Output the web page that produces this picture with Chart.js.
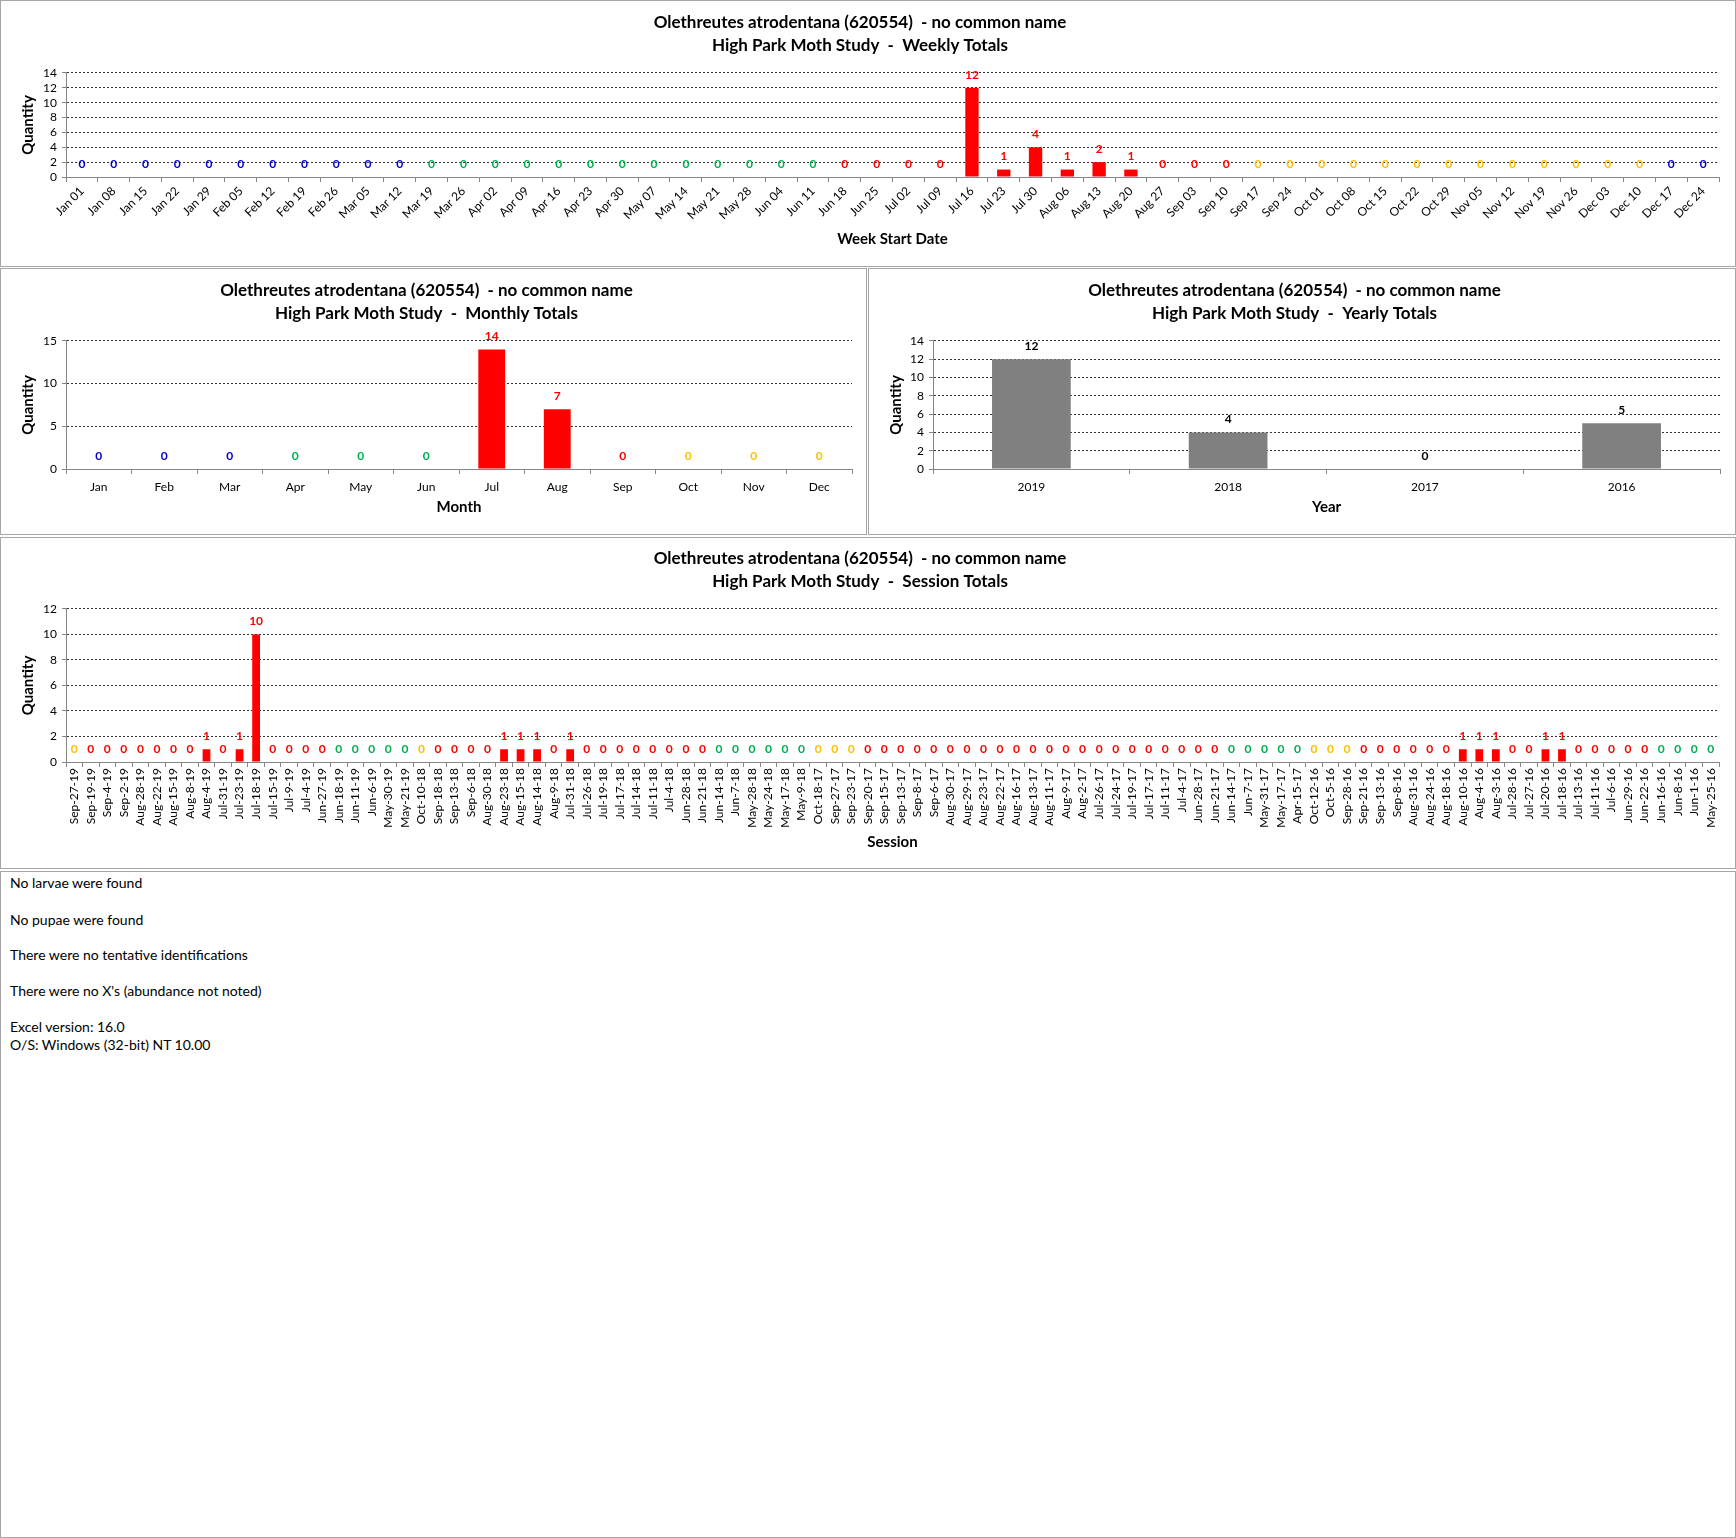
<!DOCTYPE html>
<html>
<head>
<meta charset="utf-8">
<title>Olethreutes atrodentana (620554)</title>
<script src="https://cdn.jsdelivr.net/npm/chart.js@4.4.0/dist/chart.umd.min.js"></script>
<style>
  body { margin: 0; background: #fff; width: 1736px; height: 1538px; position: relative; font-family: Lato, sans-serif; }
  .panel { position: absolute; border: 1px solid #a6a6a6; background: #fff; }
  .panel canvas { display: block; }
  #notes div { position: absolute; left: 9px; font-size: 14px; line-height: 18px; color: #000; white-space: nowrap; }
</style>
</head>
<body>
<div class="panel" style="left:0;top:0;width:1734px;height:265px"><canvas id="weekChart" width="1734" height="265"></canvas></div>
<div class="panel" style="left:0;top:268px;width:865px;height:265px"><canvas id="monthChart" width="865" height="265"></canvas></div>
<div class="panel" style="left:868px;top:268px;width:866px;height:265px"><canvas id="yearChart" width="866" height="265"></canvas></div>
<div class="panel" style="left:0;top:537px;width:1734px;height:330px"><canvas id="sessionChart" width="1734" height="330"></canvas></div>
<div class="panel" id="notes" style="left:0;top:871px;width:1734px;height:665px">
  <div style="top:2px">No larvae were found</div>
  <div style="top:39px">No pupae were found</div>
  <div style="top:74px">There were no tentative identifications</div>
  <div style="top:110px">There were no X's (abundance not noted)</div>
  <div style="top:146px">Excel version: 16.0</div>
  <div style="top:164px">O/S: Windows (32-bit) NT 10.00</div>
</div>

<script>
// ---- data ----
var titleLine1 = 'Olethreutes atrodentana (620554)  - no common name';

var weekLabels = ['Jan 01','Jan 08','Jan 15','Jan 22','Jan 29','Feb 05','Feb 12','Feb 19','Feb 26','Mar 05','Mar 12',
  'Mar 19','Mar 26','Apr 02','Apr 09','Apr 16','Apr 23','Apr 30','May 07','May 14','May 21','May 28','Jun 04','Jun 11',
  'Jun 18','Jun 25','Jul 02','Jul 09','Jul 16','Jul 23','Jul 30','Aug 06','Aug 13','Aug 20','Aug 27','Sep 03','Sep 10',
  'Sep 17','Sep 24','Oct 01','Oct 08','Oct 15','Oct 22','Oct 29','Nov 05','Nov 12','Nov 19','Nov 26','Dec 03','Dec 10',
  'Dec 17','Dec 24'];
var weekValues = [0,0,0,0,0,0,0,0,0,0,0,
  0,0,0,0,0,0,0,0,0,0,0,0,0,
  0,0,0,0,12,1,4,1,2,1,0,0,0,
  0,0,0,0,0,0,0,0,0,0,0,0,0,
  0,0];
var weekTicks = [0,2,4,6,8,10,12,14];

var monthLabels = ['Jan','Feb','Mar','Apr','May','Jun','Jul','Aug','Sep','Oct','Nov','Dec'];
var monthValues = [0,0,0,0,0,0,14,7,0,0,0,0];
var monthTicks = [0,5,10,15];

var yearLabels = ['2019','2018','2017','2016'];
var yearValues = [12,4,0,5];
var yearTicks = [0,2,4,6,8,10,12,14];

var sessionLabels = [
  'Sep-27-19','Sep-19-19','Sep-4-19','Sep-2-19','Aug-28-19','Aug-22-19','Aug-15-19','Aug-8-19','Aug-4-19','Jul-31-19',
  'Jul-23-19','Jul-18-19','Jul-15-19','Jul-9-19','Jul-4-19','Jun-27-19','Jun-18-19','Jun-11-19','Jun-6-19','May-30-19',
  'May-21-19','Oct-10-18','Sep-18-18','Sep-13-18','Sep-6-18','Aug-30-18','Aug-23-18','Aug-15-18','Aug-14-18','Aug-9-18',
  'Jul-31-18','Jul-26-18','Jul-19-18','Jul-17-18','Jul-14-18','Jul-11-18','Jul-4-18','Jun-28-18','Jun-21-18','Jun-14-18',
  'Jun-7-18','May-28-18','May-24-18','May-17-18','May-9-18','Oct-18-17','Sep-27-17','Sep-23-17','Sep-20-17','Sep-15-17',
  'Sep-13-17','Sep-8-17','Sep-6-17','Aug-30-17','Aug-29-17','Aug-23-17','Aug-22-17','Aug-16-17','Aug-13-17','Aug-11-17',
  'Aug-9-17','Aug-2-17','Jul-26-17','Jul-24-17','Jul-19-17','Jul-17-17','Jul-11-17','Jul-4-17','Jun-28-17','Jun-21-17',
  'Jun-14-17','Jun-7-17','May-31-17','May-17-17','Apr-15-17','Oct-12-16','Oct-5-16','Sep-28-16','Sep-21-16','Sep-13-16',
  'Sep-8-16','Aug-31-16','Aug-24-16','Aug-18-16','Aug-10-16','Aug-4-16','Aug-3-16','Jul-28-16','Jul-27-16','Jul-20-16',
  'Jul-18-16','Jul-13-16','Jul-11-16','Jul-6-16','Jun-29-16','Jun-22-16','Jun-16-16','Jun-8-16','Jun-1-16','May-25-16'];
var sessionValues = [
  0,0,0,0,0,0,0,0,1,0,
  1,10,0,0,0,0,0,0,0,0,
  0,0,0,0,0,0,1,1,1,0,
  1,0,0,0,0,0,0,0,0,0,
  0,0,0,0,0,0,0,0,0,0,
  0,0,0,0,0,0,0,0,0,0,
  0,0,0,0,0,0,0,0,0,0,
  0,0,0,0,0,0,0,0,0,0,
  0,0,0,0,1,1,1,0,0,1,
  1,0,0,0,0,0,0,0,0,0];
var sessionTicks = [0,2,4,6,8,10,12];

// ---- season colours for the value labels ----
var blue = '#0000CC', green = '#00B050', red = '#FF0000', yellow = '#FFC000';

function monthDay(label) {
  var p = label.split(/[ -]/);
  return (monthLabels.indexOf(p[0]) + 1) * 100 + parseInt(p[1], 10);
}
function weekColor(label) {
  var md = monthDay(label);
  return md < 319 ? blue : md < 618 ? green : md < 917 ? red : md < 1217 ? yellow : blue;
}
function sessionColor(label) {
  var md = monthDay(label);
  return md < 619 ? green : md <= 922 ? red : yellow;
}
function monthColor(label, i) {
  return [blue, green, red, yellow][Math.floor(i / 3)];
}

// draws the number above each bar, like Excel's data labels
var valueLabels = {
  id: 'valueLabels',
  afterDatasetsDraw: function (chart) {
    var ctx = chart.ctx;
    var ds = chart.data.datasets[0];
    var meta = chart.getDatasetMeta(0);
    ctx.save();
    ctx.font = 'bold 12px Lato';
    ctx.textAlign = 'center';
    ctx.textBaseline = 'middle';
    meta.data.forEach(function (bar, i) {
      ctx.fillStyle = ds.labelColors[i];
      ctx.fillText(String(ds.data[i]), bar.x, bar.y - 13);
    });
    ctx.restore();
  }
};

var titleFont = { family: 'Lato', size: 17, weight: 'bold', lineHeight: 1.35 };
var tickFont = { family: 'Lato', size: 12 };
var axisTitleFont = { family: 'Lato', size: 15, weight: 'bold', lineHeight: 1.2 };
var axisGray = '#868686';

function barChart(id, o) {
  return new Chart(document.getElementById(id), {
    type: 'bar',
    data: {
      labels: o.labels,
      datasets: [{
        data: o.values,
        backgroundColor: o.barColor,
        labelColors: o.labelColors,
        barPercentage: 1,
        categoryPercentage: o.cat
      }]
    },
    options: {
      responsive: false,
      animation: false,
      devicePixelRatio: 1,
      layout: { padding: { left: 0, right: o.right, top: 0, bottom: 0 } },
      plugins: {
        legend: { display: false },
        tooltip: { enabled: false },
        title: {
          display: true,
          text: [titleLine1, o.subtitle],
          font: titleFont,
          color: '#000',
          padding: { top: o.titleTop, bottom: o.titleBottom }
        }
      },
      scales: {
        x: {
          ticks: { autoSkip: false, maxRotation: o.rot, minRotation: o.rot, font: tickFont, color: '#000', padding: o.xPad },
          grid: { offset: true, drawOnChartArea: false, drawTicks: true, tickLength: 5, color: axisGray },
          border: { display: true, color: axisGray },
          title: { display: true, text: o.xTitle, font: axisTitleFont, color: '#000', padding: { top: 0, bottom: o.xTitleBottom } },
          afterFit: function (s) { s.height = o.xHeight; }
        },
        y: {
          min: 0,
          max: o.ticks[o.ticks.length - 1],
          afterBuildTicks: function (s) { s.ticks = o.ticks.map(function (v) { return { value: v }; }); },
          ticks: { autoSkip: false, font: tickFont, color: '#000', padding: 5 },
          grid: {
            color: function (c) { return c.tick && c.tick.value === 0 ? 'rgba(0,0,0,0)' : '#333'; },
            tickColor: axisGray,
            tickLength: 4
          },
          border: { display: true, color: axisGray, dash: [2, 2] },
          title: { display: true, text: 'Quantity', font: axisTitleFont, color: '#000', padding: { top: 18, bottom: 0 } },
          afterFit: function (s) { s.width = o.yWidth; }
        }
      }
    },
    plugins: [valueLabels]
  });
}

barChart('weekChart', {
  labels: weekLabels, values: weekValues, ticks: weekTicks,
  subtitle: 'High Park Moth Study  -  Weekly Totals',
  barColor: red, labelColors: weekLabels.map(weekColor), cat: 0.42,
  right: 16, titleTop: 10, titleBottom: 16,
  rot: 45, xPad: 2, xTitle: 'Week Start Date', xTitleBottom: 18, xHeight: 89, yWidth: 65
});

barChart('monthChart', {
  labels: monthLabels, values: monthValues, ticks: monthTicks,
  subtitle: 'High Park Moth Study  -  Monthly Totals',
  barColor: red, labelColors: monthLabels.map(monthColor), cat: 0.41,
  right: 14, titleTop: 10, titleBottom: 16,
  rot: 0, xPad: 6, xTitle: 'Month', xTitleBottom: 18, xHeight: 65, yWidth: 65
});

barChart('yearChart', {
  labels: yearLabels, values: yearValues, ticks: yearTicks,
  subtitle: 'High Park Moth Study  -  Yearly Totals',
  barColor: '#808080', labelColors: yearLabels.map(function () { return '#000'; }), cat: 0.40,
  right: 15, titleTop: 10, titleBottom: 16,
  rot: 0, xPad: 6, xTitle: 'Year', xTitleBottom: 18, xHeight: 65, yWidth: 64
});

barChart('sessionChart', {
  labels: sessionLabels, values: sessionValues, ticks: sessionTicks,
  subtitle: 'High Park Moth Study  -  Session Totals',
  barColor: red, labelColors: sessionLabels.map(sessionColor), cat: 0.47,
  right: 16, titleTop: 9, titleBottom: 16,
  rot: 90, xPad: 1, xTitle: 'Session', xTitleBottom: 17, xHeight: 106, yWidth: 65
});
</script>
</body>
</html>
